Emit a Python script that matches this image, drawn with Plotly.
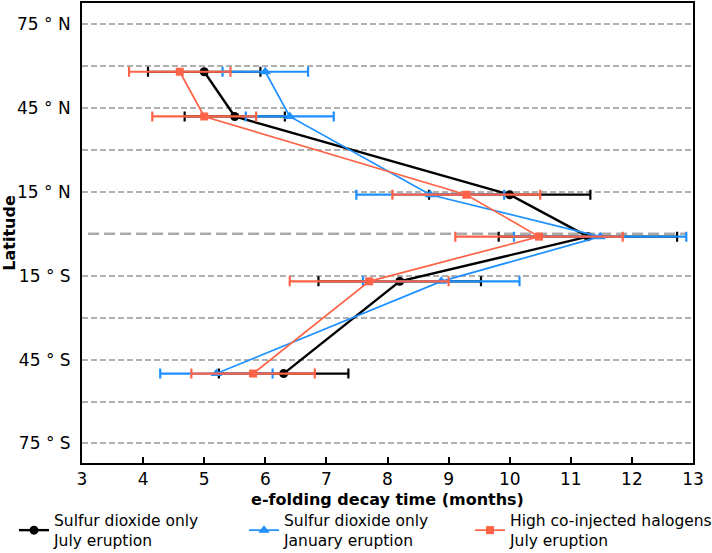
import plotly.graph_objects as go

# ---- data ----
latitudes = [58, 42, 14, -1, -17, -50]

so2_july = [5.0, 5.5, 10.0, 11.28, 8.2, 6.3]
so2_july_err = [0.92, 0.82, 1.32, 1.46, 1.33, 1.06]

so2_jan = [6.0, 6.4, 8.7, 11.48, 8.88, 5.2]
so2_jan_err = [0.70, 0.72, 1.21, 1.41, 1.28, 0.92]

hal_july = [4.6, 5.0, 9.29, 10.48, 7.7, 5.8]
hal_july_err = [0.83, 0.85, 1.21, 1.37, 1.30, 1.01]

series_names = ["Sulfur dioxide only<br>July eruption",
                "Sulfur dioxide only<br>January eruption",
                "High co-injected halogens<br>July eruption"]

lat_ticks = [75, 45, 15, -15, -45, -75]
lat_labels = ["75 ° N", "45 ° N", "15 ° N", "15 ° S", "45 ° S", "75 ° S"]
lat_minor = [60, 30, -30, -60]
x_ticks = list(range(3, 14))
equator = 0

FONT = "DejaVu Sans"

fig = go.Figure()

styles = [
    (so2_july, so2_july_err, "black", "circle", 9, 2.4, "legend"),
    (so2_jan, so2_jan_err, "#1E90FF", "triangle-up", 10, 1.7, "legend2"),
    (hal_july, hal_july_err, "#FF6347", "square", 8, 1.7, "legend3"),
]
for (vals, errs, col, sym, msize, lw, leg), name in zip(styles, series_names):
    fig.add_trace(go.Scatter(
        x=vals, y=latitudes, mode="lines+markers", name=name, legend=leg,
        line=dict(color=col, width=lw),
        marker=dict(color=col, symbol=sym, size=msize),
        error_x=dict(type="data", array=errs, visible=True, color=col,
                     thickness=2.2, width=5),
    ))

fig.add_shape(type="line", xref="paper", yref="y", x0=0.01, x1=0.99,
              y0=equator, y1=equator, layer="below",
              line=dict(color="#aaaaaa", width=2.5, dash="11px,5px"))

legfont = dict(family=FONT, size=15.5, color="black")
plot_w = 712 - 82 - 19
def lx(px):
    return (px - 82) / plot_w

leg_common = dict(orientation="v", xanchor="left", y=-0.088, yanchor="top",
                  font=legfont, bgcolor="rgba(0,0,0,0)", tracegroupgap=0)

grid = dict(gridcolor="#b0b0b0", gridwidth=1.5, griddash="6px,3px")

fig.update_layout(
    width=712, height=553,
    margin=dict(l=82, r=19, t=3, b=90, autoexpand=False),
    plot_bgcolor="white", paper_bgcolor="white",
    font=dict(family=FONT, color="black", size=16),
    showlegend=True,
    legend=dict(x=lx(14), **leg_common),
    legend2=dict(x=lx(244), **leg_common),
    legend3=dict(x=lx(470), **leg_common),
    xaxis=dict(
        range=[3, 13], tickvals=x_ticks, ticks="inside", ticklen=6, tickwidth=1.5,
        tickcolor="black", showline=True, mirror=True, linecolor="black", linewidth=2,
        showgrid=False, zeroline=False, automargin=False,
        tickfont=dict(family=FONT, size=17),
        title=dict(text="<b>e-folding decay time (months)</b>",
                   font=dict(family=FONT, size=16), standoff=5),
    ),
    yaxis=dict(
        range=[-82, 82.6], tickvals=lat_ticks, ticktext=lat_labels, ticks="",
        showline=True, mirror=True, linecolor="black", linewidth=2,
        showgrid=True, **grid,
        minor=dict(tickvals=lat_minor, showgrid=True, ticks="", **grid),
        zeroline=False, automargin=False, ticklabelstandoff=6,
        tickfont=dict(family=FONT, size=17),
        title=dict(text="<b>Latitude</b>", font=dict(family=FONT, size=16), standoff=8),
    ),
)

fig.write_html("out.html", post_script="document.body.style.margin='0';",
               config={"displayModeBar": False})
